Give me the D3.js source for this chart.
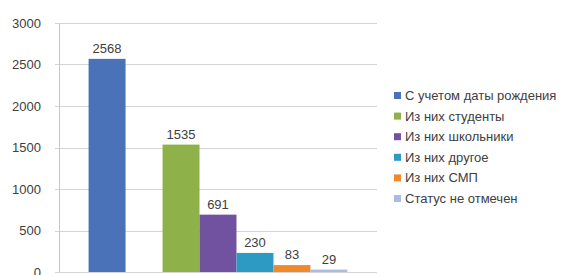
<!DOCTYPE html>
<html>
<head>
<meta charset="utf-8">
<script src="https://cdn.jsdelivr.net/npm/d3@7"></script>
<style>
  body { margin: 0; background: #fff; }
  text { font-family: "Liberation Sans", Arial, sans-serif; fill: #404040; }
</style>
</head>
<body>
<script>
"use strict";

///////////////////
// data
///////////////////
var seriesNames = [
    "С учетом даты рождения",
    "Из них студенты",
    "Из них школьники",
    "Из них другое",
    "Из них СМП",
    "Статус не отмечен"
];
var seriesValues = [2568, 1535, 691, 230, 83, 29];
var seriesColors = ["#4a72b8", "#8eb14a", "#7052a0", "#2d9ac4", "#ef8a2c", "#a8bde4"];
var yTicks = [0, 500, 1000, 1500, 2000, 2500, 3000];

///////////////////
// layout
///////////////////
var width = 576, height = 275;
var plot = { left: 59, right: 377, top: 23, bottom: 272 };

var svg = d3.select("body")
    .append("svg")
    .attr("width", width)
    .attr("height", height);

// first series stands apart, an empty slot follows it
var slots = [seriesNames[0], "__gap"].concat(seriesNames.slice(1));
var x = d3.scaleBand()
    .domain(slots)
    .range([plot.left, plot.right])
    .paddingInner(0)
    .paddingOuter(0.8);

var y = d3.scaleLinear()
    .domain([0, 3000])
    .range([plot.bottom, plot.top]);

// gridlines
svg.append("g")
    .selectAll("line")
    .data(yTicks)
    .enter()
    .append("line")
    .attr("x1", plot.left - 4)
    .attr("x2", plot.right)
    .attr("y1", function(d) { return Math.round(y(d)) + 0.5; })
    .attr("y2", function(d) { return Math.round(y(d)) + 0.5; })
    .style("stroke", "#d4d4d4")
    .style("stroke-width", 1);

// y axis
var yAxis = d3.axisLeft(y)
    .tickValues(yTicks)
    .tickFormat(d3.format("d"))
    .tickSize(0)
    .tickPadding(18);
var gy = svg.append("g")
    .attr("transform", "translate(" + plot.left + ",0)")
    .call(yAxis);
gy.select(".domain").style("stroke", "#c8c8c8");
gy.selectAll("text")
    .style("font-size", "13px")
    .style("fill", "#404040");

// bars
var bars = seriesNames.map(function(n, i) {
    return { name: n, value: seriesValues[i], color: seriesColors[i] };
});

svg.append("g")
    .selectAll("rect")
    .data(bars)
    .enter()
    .append("rect")
    .attr("x", function(d) { return x(d.name); })
    .attr("y", function(d) { return y(d.value); })
    .attr("width", x.bandwidth())
    .attr("height", function(d) { return y(0) - y(d.value); })
    .style("fill", function(d) { return d.color; });

// value labels
svg.append("g")
    .selectAll("text")
    .data(bars)
    .enter()
    .append("text")
    .attr("x", function(d) { return x(d.name) + x.bandwidth() / 2; })
    .attr("y", function(d) { return y(d.value) - 6; })
    .attr("text-anchor", "middle")
    .style("font-size", "13px")
    .text(function(d) { return d.value; });

// legend
var legend = svg.append("g")
    .attr("transform", "translate(394,96)");
var rows = legend.selectAll("g")
    .data(bars)
    .enter()
    .append("g")
    .attr("transform", function(d, i) { return "translate(0," + (i * 20.6) + ")"; });
rows.append("rect")
    .attr("x", 0)
    .attr("y", -4)
    .attr("width", 7)
    .attr("height", 7)
    .style("fill", function(d) { return d.color; });
rows.append("text")
    .attr("x", 11)
    .attr("y", 4)
    .style("font-size", "13px")
    .text(function(d) { return d.name; });
</script>
</body>
</html>
